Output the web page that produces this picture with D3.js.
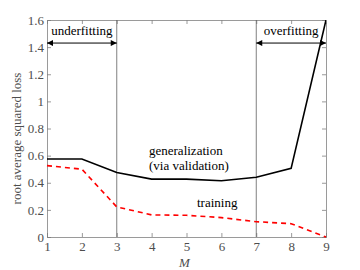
<!DOCTYPE html>
<html>
<head>
<meta charset="utf-8">
<script src="https://cdn.jsdelivr.net/npm/d3@7"></script>
<style>
  body { margin: 0; background: #fff; }
</style>
</head>
<body>
<div id="chart"></div>
<script>
// model complexity M vs loss
var mValues = [1, 2, 3, 4, 5, 6, 7, 8, 9];
var generalizationLoss = [0.575, 0.575, 0.476, 0.427, 0.427, 0.415, 0.44, 0.506, 1.6];
var trainingLoss = [0.526, 0.50, 0.222, 0.163, 0.16, 0.143, 0.113, 0.098, 0];
var yTicks = [0, 0.2, 0.4, 0.6, 0.8, 1, 1.2, 1.4, 1.6];
var regionLines = [3, 7];
var arrowLevel = 1.43;

var serif = "'Liberation Serif', 'Times New Roman', serif";

var margin = {top: 20, right: 34, bottom: 33, left: 47};
var width = 360 - margin.left - margin.right;
var height = 270 - margin.top - margin.bottom;

var svg = d3.select("#chart").append("svg")
    .attr("width", 360)
    .attr("height", 270)
    .style("font-family", serif);

var g = svg.append("g")
    .attr("transform", "translate(" + margin.left + "," + margin.top + ")");

var x = d3.scaleLinear().domain([1, 9]).range([0, width]);
var y = d3.scaleLinear().domain([0, 1.6]).range([height, 0]);

var axisColor = "#808080";
var labelColor = "#4d4d4d";

// axes with inward ticks (box style)
var xAxis = g.append("g")
    .attr("transform", "translate(0," + height + ")")
    .call(d3.axisBottom(x).tickValues(mValues).tickSize(-4).tickPadding(5).tickFormat(d3.format("d")));
var xTop = g.append("g")
    .call(d3.axisTop(x).tickValues(mValues).tickSize(-4).tickFormat(""));
var yAxis = g.append("g")
    .call(d3.axisLeft(y).tickValues(yTicks).tickSize(-4).tickPadding(3).tickFormat(function(d){ return d3.format("")(d); }));
var yRight = g.append("g")
    .attr("transform", "translate(" + width + ",0)")
    .call(d3.axisRight(y).tickValues(yTicks).tickSize(-4).tickFormat(""));

[xAxis, xTop, yAxis, yRight].forEach(function(a){
    a.attr("font-family", serif);
    a.selectAll("path, line").attr("stroke", axisColor).attr("stroke-width", 0.8);
    a.selectAll("text").attr("fill", labelColor)
        .style("font-size", "13px")
        .style("font-family", serif);
});

// region divider lines
g.selectAll(".divider")
    .data(regionLines)
    .enter().append("line")
    .attr("class", "divider")
    .attr("x1", function(d){ return x(d); })
    .attr("x2", function(d){ return x(d); })
    .attr("y1", 0)
    .attr("y2", height)
    .attr("stroke", "#606060")
    .attr("stroke-width", 0.8);

// arrow markers
var defs = svg.append("defs");
defs.append("marker")
    .attr("id", "arrowEnd")
    .attr("viewBox", "0 0 10 10")
    .attr("refX", 10).attr("refY", 5)
    .attr("markerWidth", 7).attr("markerHeight", 6)
    .attr("markerUnits", "userSpaceOnUse")
    .attr("orient", "auto-start-reverse")
    .append("path").attr("d", "M0,0 L10,5 L0,10 Z").attr("fill", "#000");

var regions = [
    {from: 1, to: 3, label: "underfitting"},
    {from: 7, to: 9, label: "overfitting"}
];

g.selectAll(".region-arrow")
    .data(regions)
    .enter().append("line")
    .attr("class", "region-arrow")
    .attr("x1", function(d){ return x(d.from); })
    .attr("x2", function(d){ return x(d.to); })
    .attr("y1", y(arrowLevel))
    .attr("y2", y(arrowLevel))
    .attr("stroke", "#000")
    .attr("stroke-width", 1)
    .attr("marker-start", "url(#arrowEnd)")
    .attr("marker-end", "url(#arrowEnd)");

g.selectAll(".region-label")
    .data(regions)
    .enter().append("text")
    .attr("class", "region-label")
    .attr("x", function(d){ return (x(d.from) + x(d.to)) / 2; })
    .attr("y", 15)
    .attr("text-anchor", "middle")
    .style("font-size", "13px")
    .style("font-family", serif)
    .attr("fill", "#000")
    .text(function(d){ return d.label; });

// lines
var clip = defs.append("clipPath").attr("id", "plotClip");
clip.append("rect").attr("width", width).attr("height", height);

var line = d3.line()
    .x(function(d, i){ return x(mValues[i]); })
    .y(function(d){ return y(d); });

g.append("path")
    .datum(generalizationLoss)
    .attr("clip-path", "url(#plotClip)")
    .attr("fill", "none")
    .attr("stroke", "#000")
    .attr("stroke-width", 1.6)
    .attr("d", line);

g.append("path")
    .datum(trainingLoss)
    .attr("fill", "none")
    .attr("stroke", "#ff0000")
    .attr("stroke-width", 1.6)
    .attr("stroke-dasharray", "5,4")
    .attr("d", line);

// curve labels
var genLabel = g.append("text")
    .attr("x", 102)
    .attr("y", 135)
    .style("font-size", "13px")
    .style("font-family", serif)
    .attr("fill", "#000");
genLabel.append("tspan").attr("x", 102).attr("dy", 0).text("generalization");
genLabel.append("tspan").attr("x", 102).attr("dy", 15).text("(via validation)");

g.append("text")
    .attr("x", 150)
    .attr("y", 187)
    .style("font-size", "13px")
    .style("font-family", serif)
    .attr("fill", "#000")
    .text("training");

// axis titles
svg.append("text")
    .attr("x", margin.left + width / 2 - 2)
    .attr("y", 267)
    .attr("text-anchor", "middle")
    .style("font-size", "13px")
    .style("font-style", "italic")
    .style("font-family", serif)
    .attr("fill", labelColor)
    .text("M");

svg.append("text")
    .attr("transform", "translate(21," + (margin.top + height / 2 + 10) + ") rotate(-90)")
    .attr("text-anchor", "middle")
    .style("font-size", "13px")
    .style("font-family", serif)
    .attr("fill", labelColor)
    .text("root average squared loss");
</script>
</body>
</html>
